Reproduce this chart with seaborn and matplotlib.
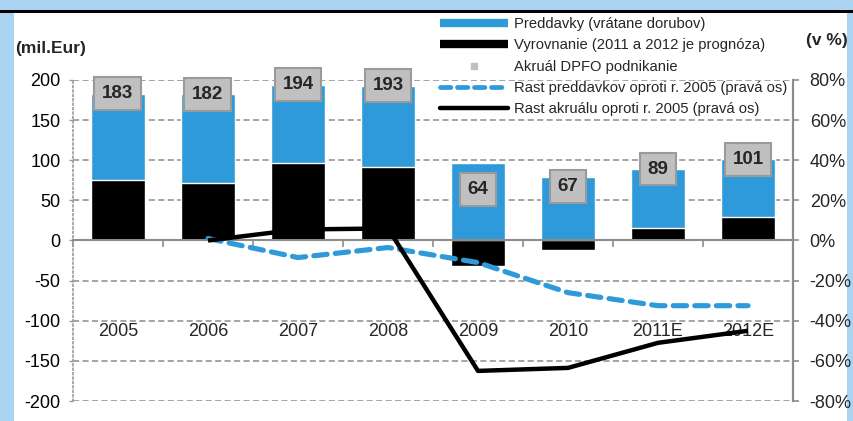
import numpy as np
import pandas as pd
import matplotlib
matplotlib.use("Agg")
import matplotlib.pyplot as plt
import seaborn as sns
from matplotlib.lines import Line2D
from matplotlib.patches import Rectangle

years = ["2005", "2006", "2007", "2008", "2009", "2010", "2011E", "2012E"]
preddavky = [107, 110, 98, 102, 96, 79, 73, 72]
vyrovnanie = [76, 72, 96, 91, -32, -12, 16, 29]
akrual = [183, 182, 194, 193, 64, 67, 89, 101]
rast_preddavkov = [np.nan, 1, -8.5, -3.5, -11, -26, -32.5, -32.5]
rast_akrualu = [np.nan, 0, 5.5, 6, -65, -63.5, -51, -45]

left_ticks = [-200, -150, -100, -50, 0, 50, 100, 150, 200]
right_ticks = [-80, -60, -40, -20, 0, 20, 40, 60, 80]

BLUE = "#2e9ada"
LIGHT = "#a9d3f1"
GRAY = "#8c8c8c"

sns.set_theme(style="white")
plt.rcParams["font.family"] = ["Liberation Sans", "DejaVu Sans"]

W, H = 854, 421
fig = plt.figure(figsize=(W / 100, H / 100), dpi=100)
fig.patch.set_facecolor(LIGHT)
# white panel + black top rule
fig.patches.append(Rectangle((14 / W, 0), (847 - 14) / W, 1 - 13 / H,
                             transform=fig.transFigure, fc="white", ec="none", zorder=-10))
fig.patches.append(Rectangle((0, 1 - 13 / H), 1, 2.5 / H,
                             transform=fig.transFigure, fc="black", ec="none", zorder=-9))

ax = fig.add_axes([73 / W, 1 - 401 / H, 720 / W, 321 / H])
ax.set_facecolor("none")

df = pd.DataFrame({
    "year": years,
    "blue_top": [max(v, 0) + p for p, v in zip(preddavky, vyrovnanie)],
    "vyrovnanie": vyrovnanie,
})
sns.barplot(data=df, x="year", y="blue_top", color=BLUE, saturation=1,
            width=0.6, ax=ax, zorder=2)
sns.barplot(data=df, x="year", y="vyrovnanie", color="black", saturation=1,
            width=0.6, ax=ax, zorder=3)

ax.set_ylim(-200, 200)
ax.set_xlim(-0.5, len(years) - 0.5)
ax.set_yticks(left_ticks)
ax.set_yticklabels([str(t) for t in left_ticks], fontsize=13)
ax.set_xlabel("")
ax.set_ylabel("")
ax.set_axisbelow(True)
ax.yaxis.grid(True, linestyle=(0, (4, 2.2)), color=GRAY, lw=1.1)
ax.xaxis.grid(False)
for s in ["top", "right"]:
    ax.spines[s].set_visible(False)
ax.spines["bottom"].set_position(("data", 0))
ax.spines["bottom"].set_color(GRAY)
ax.spines["bottom"].set_linewidth(1.5)
ax.spines["bottom"].set_zorder(4)
ax.spines["left"].set_color("#9a9a9a")
ax.spines["left"].set_linestyle(":")
ax.spines["left"].set_linewidth(1.2)
ax.set_xticks(np.arange(-0.5, len(years), 1.0))
ax.set_xticklabels([])
ax.tick_params(axis="x", bottom=True, length=5, width=1.2, color=GRAY, direction="out")
ax.tick_params(axis="y", left=True, length=3, width=1, color="#9a9a9a", pad=6,
               labelcolor="black")

for i, y in enumerate(years):
    ax.text(i, -113, y, ha="center", va="center", fontsize=13, zorder=6)

for i, v in enumerate(akrual):
    ax.text(i, v, str(v), ha="center", va="center", fontsize=13.5, fontweight="bold",
            zorder=7,
            bbox=dict(boxstyle="square,pad=0.42", fc="#c0c0c0", ec="#9a9a9a", lw=1.5))

ax2 = ax.twinx()
ax2.set_facecolor("none")
xs = np.arange(len(years))
sns.lineplot(x=xs, y=rast_preddavkov, color=BLUE, lw=3.7, ax=ax2)
sns.lineplot(x=xs, y=rast_akrualu, color="black", lw=3.2, ax=ax2)
ax2.lines[0].set_linestyle((0, (2.6, 1.6)))
ax2.lines[0].set_dash_capstyle("round")
ax2.lines[1].set_solid_capstyle("butt")
ax2.set_ylim(-80, 80)
ax2.set_xlim(-0.5, len(years) - 0.5)
ax2.set_yticks(right_ticks)
ax2.set_yticklabels([f"{t}%" for t in right_ticks], fontsize=13)
ax2.set_ylabel("")
ax2.grid(False)
for s in ["top", "left", "bottom"]:
    ax2.spines[s].set_visible(False)
ax2.spines["right"].set_color(GRAY)
ax2.spines["right"].set_linewidth(1.6)
ax2.tick_params(axis="y", right=True, length=4, width=1.2, color=GRAY, pad=8)

fig.text(15 / W, 1 - 48 / H, "(mil.Eur)", fontsize=12.5, fontweight="bold",
         ha="left", va="center")
fig.text(806 / W, 1 - 40 / H, "(v %)", fontsize=12.5, fontweight="bold",
         ha="left", va="center")

handles = [
    Line2D([], [], color=BLUE, lw=6, solid_capstyle="butt"),
    Line2D([], [], color="black", lw=6, solid_capstyle="butt"),
    Line2D([], [], color="#c0c0c0", lw=0, marker="s", markersize=5),
    Line2D([], [], color=BLUE, lw=3.4, linestyle=(0, (2.2, 1.4)), dash_capstyle="round"),
    Line2D([], [], color="black", lw=3.2, solid_capstyle="round"),
]
labels = [
    "Preddavky (vrátane dorubov)",
    "Vyrovnanie (2011 a 2012 je prognóza)",
    "Akruál DPFO podnikanie",
    "Rast preddavkov oproti r. 2005 (pravá os)",
    "Rast akruálu oproti r. 2005 (pravá os)",
]
leg = fig.legend(handles, labels, loc="upper left", bbox_to_anchor=(437 / W, 1 - 14 / H),
                 frameon=False, prop={"size": 10.6},
                 handlelength=4.6, handletextpad=0.45, labelspacing=0.5,
                 borderpad=0.2, borderaxespad=0)

fig.savefig("out.png", dpi=100, facecolor=fig.get_facecolor())
